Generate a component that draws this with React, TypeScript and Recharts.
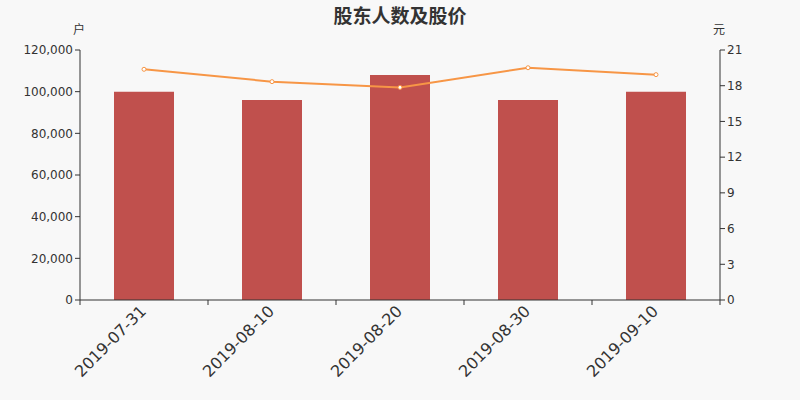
import React from 'react';
import { ComposedChart, Bar, Line, XAxis, YAxis } from 'recharts';

const dates = ['2019-07-31', '2019-08-10', '2019-08-20', '2019-08-30', '2019-09-10'];
const holders = [100000, 96000, 108000, 96000, 100000];
const prices = [19.38, 18.34, 17.86, 19.51, 18.93];
const leftTicks = [0, 20000, 40000, 60000, 80000, 100000, 120000];
const rightTicks = [0, 3, 6, 9, 12, 15, 18, 21];

const data = dates.map((d, i) => ({ date: d, holders: holders[i], price: prices[i] }));

const FONT = '"DejaVu Sans", "Noto Sans CJK SC", sans-serif';
const AXIS = '#333';

const DateTick = (props: any) => {
  const { x, y, payload, index } = props;
  const half = payload && payload.offset ? payload.offset : 64;
  const top = y - 8;
  const lx = x;
  const ly = top + 9;
  return (
    <g>
      <line x1={x - half} y1={top} x2={x - half} y2={top + 5} stroke={AXIS} />
      {index === dates.length - 1 && (
        <line x1={x + half} y1={top} x2={x + half} y2={top + 5} stroke={AXIS} />
      )}
      <text
        x={lx}
        y={ly}
        transform={`rotate(-45 ${lx} ${ly})`}
        textAnchor="end"
        dominantBaseline="middle"
        fontSize={16}
        fill={AXIS}
        fontFamily={FONT}
      >
        {payload.value}
      </text>
    </g>
  );
};

const App = () => {
  return (
    <div style={{ position: 'relative', width: 800, height: 400, background: '#f8f8f8', fontFamily: FONT }}>
      <style>{'body{margin:0}'}</style>
      <div style={{ position: 'absolute', top: 1, left: 0, width: 800, textAlign: 'center', fontSize: 19, fontWeight: 'bold', color: '#333' }}>
        股东人数及股价
      </div>
      <div style={{ position: 'absolute', top: 20, left: 73, fontSize: 12, color: '#333' }}>户</div>
      <div style={{ position: 'absolute', top: 20, left: 713, fontSize: 12, color: '#333' }}>元</div>
      <ComposedChart width={800} height={400} data={data} margin={{ top: 50, right: 0, bottom: 0, left: 0 }}>
        <XAxis
          dataKey="date"
          height={100}
          stroke={AXIS}
          tickLine={false}
          interval={0}
          tick={<DateTick />}
        />
        <YAxis
          yAxisId="left"
          width={80}
          domain={[0, 120000]}
          ticks={leftTicks}
          stroke={AXIS}
          tickSize={5}
          tick={{ fontSize: 12, fill: AXIS, fontFamily: FONT }}
          tickFormatter={(v: number) => v.toLocaleString('en-US')}
        />
        <YAxis
          yAxisId="right"
          orientation="right"
          width={80}
          domain={[0, 21]}
          ticks={rightTicks}
          stroke={AXIS}
          tickSize={5}
          tick={{ fontSize: 12, fill: AXIS, fontFamily: FONT }}
        />
        <Bar yAxisId="left" dataKey="holders" fill="#c0504d" barSize={60} isAnimationActive={false} />
        <Line
          yAxisId="right"
          dataKey="price"
          stroke="#f79646"
          strokeWidth={2}
          dot={{ r: 2, fill: '#fff', stroke: '#f79646', strokeWidth: 1 }}
          isAnimationActive={false}
        />
      </ComposedChart>
    </div>
  );
};

export default App;
